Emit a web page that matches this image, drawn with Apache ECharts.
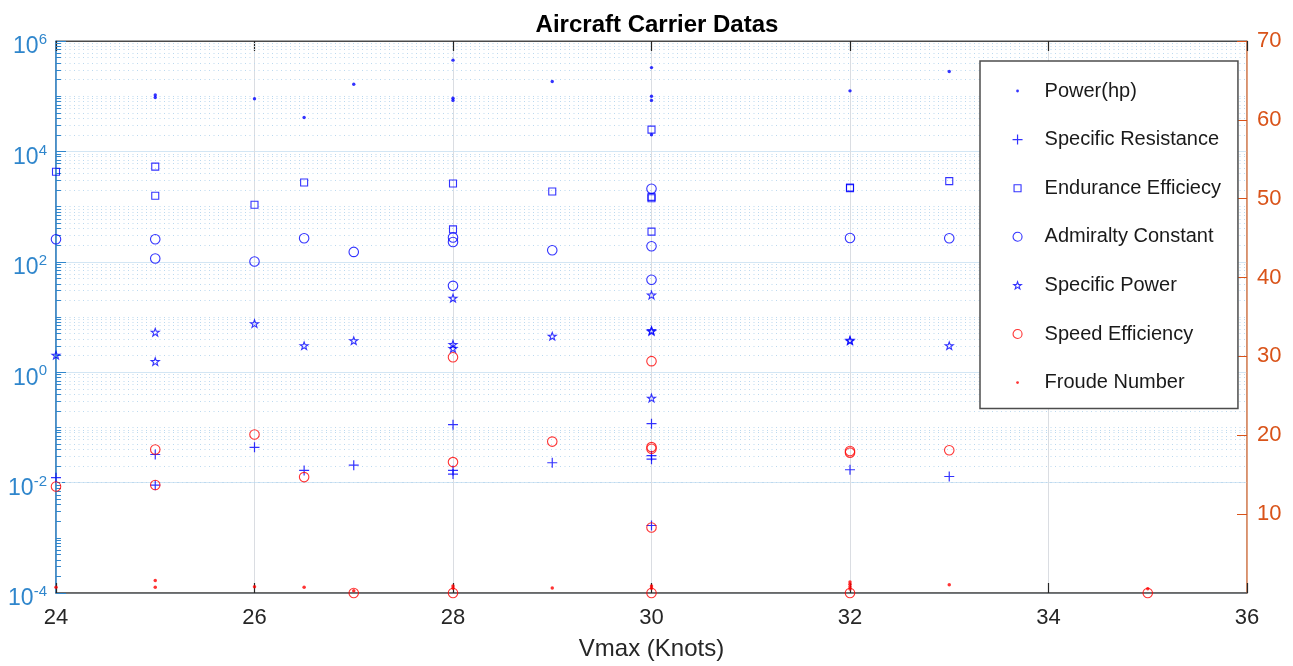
<!DOCTYPE html>
<html>
<head>
<meta charset="utf-8">
<title>Aircraft Carrier Datas</title>
<script src="https://cdn.jsdelivr.net/npm/echarts@6/dist/echarts.min.js"></script>
<style>
  html, body { margin: 0; padding: 0; background: #fff; }
  #chart { width: 1293px; height: 666px; }
</style>
</head>
<body>
<div id="chart"></div>
<script>
// ---- data: [Vmax (knots), value] ----
const powerHp = [
  [25, 1.05e5], [25, 0.95e5], [26, 9.0e4], [26.5, 4.1e4], [27, 1.65e5],
  [28, 4.5e5], [28, 9.2e4], [28, 8.4e4], [29, 1.85e5],
  [30, 3.3e5], [30, 1.0e5], [30, 8.4e4], [30, 2.0e4],
  [32, 1.25e5], [33, 2.8e5]
];
const specificResistance = [
  [24, 0.0123], [25, 0.0323], [25, 0.009], [26, 0.0436], [26.5, 0.0166], [27, 0.0207],
  [28, 0.112], [28, 0.0166], [28, 0.0143], [29, 0.0229],
  [30, 0.117], [30, 0.0307], [30, 0.0266], [30, 0.00167],
  [32, 0.0171], [33, 0.0129]
];
const enduranceEfficiency = [
  [24, 4270], [25, 5300], [25, 1570], [26, 1080], [26.5, 2730],
  [28, 2620], [28, 387], [29, 1880],
  [30, 24800], [30, 1500], [30, 1420], [30, 352],
  [32, 2220], [32, 2160], [33, 2890]
];
const admiraltyConstant = [
  [24, 256], [25, 256], [25, 115], [26, 101], [26.5, 267], [27, 151],
  [28, 275], [28, 229], [28, 36.7], [29, 162],
  [30, 2100], [30, 191], [30, 47.2],
  [32, 270], [33, 267]
];
const specificPower = [
  [24, 2.04], [25, 5.3], [25, 1.56], [26, 7.6], [26.5, 3.03], [27, 3.73],
  [28, 22], [28, 3.2], [28, 2.7], [29, 4.5],
  [30, 25], [30, 5.7], [30, 5.5], [30, 0.34],
  [32, 3.8], [32, 3.7], [33, 3.03]
];
const speedEfficiency = [
  [24, 13.5], [25, 18.2], [25, 13.7], [26, 20.1], [26.5, 14.7], [27, 0],
  [28, 29.9], [28, 16.6], [28, 0], [29, 19.2],
  [30, 29.4], [30, 18.5], [30, 18.3], [30, 8.3], [30, 0],
  [32, 18.0], [32, 17.8], [32, 0], [33, 18.1], [35, 0]
];
const froudeNumber = [
  [24, 0.72], [25, 1.6], [25, 0.72], [26, 0.8], [26.5, 0.72], [27, 0.3],
  [28, 0.9], [28, 0.6], [29, 0.63], [30, 0.9], [30, 0.6],
  [32, 1.4], [32, 1.1], [32, 0.8], [32, 0.5], [33, 1.05], [35, 0.55]
];

const seriesNames = [
  'Power(hp)', 'Specific Resistance', 'Endurance Efficiecy',
  'Admiralty Constant', 'Specific Power', 'Speed Efficiency', 'Froude Number'
];

// ---- axis ranges ----
const xRange = [24, 36];
const leftRange = [1e-4, 1e6];
const rightRange = [0, 70];

// ---- styling ----
const FONT = '"Liberation Sans", Arial, Helvetica, sans-serif';
const BLUE = '#0000ff';
const RED = '#ff0000';
const LEFT_AXIS = '#2f86cc';
const RIGHT_AXIS = '#d95319';
const NONE = 'rgba(0,0,0,0)';

// marker shapes
function starPath(cx, cy, R, r) {
  let d = '';
  for (let i = 0; i < 10; i++) {
    const a = (-90 + i * 36) * Math.PI / 180;
    const rad = i % 2 === 0 ? R : r;
    d += (i === 0 ? 'M' : 'L') + (cx + rad * Math.cos(a)).toFixed(2) + ',' + (cy + rad * Math.sin(a)).toFixed(2);
  }
  return d + 'Z';
}
function circlePath(cx, cy, r) {
  return 'M' + (cx - r) + ',' + cy + 'A' + r + ',' + r + ',0,1,1,' + (cx + r) + ',' + cy +
         'A' + r + ',' + r + ',0,1,1,' + (cx - r) + ',' + cy + 'Z';
}
// filled cross: arm length 2*h, bar thickness 2*t, centred on (cx, cy)
function crossPath(cx, cy, h, t) {
  const p = (x, y) => (cx + x).toFixed(2) + ',' + (cy + y).toFixed(2);
  return 'M' + p(-h, -t) + 'L' + p(h, -t) + 'L' + p(h, t) + 'L' + p(-h, t) + 'Z' +
         'M' + p(-t, -h) + 'L' + p(t, -h) + 'L' + p(t, h) + 'L' + p(-t, h) + 'Z';
}
const PLUS = 'path://' + crossPath(5, 5, 5, 0.6);
const STAR = 'path://' + starPath(10, 10, 10, 4);

// legend icons drawn inside a fixed 14x14 frame so their sizes differ
const FRAME = 'path://M0,0M14,14';
const legendIcons = {
  dot: FRAME + circlePath(7, 7, 1.4),
  plus: FRAME + crossPath(7, 7, 5, 0.6),
  square: FRAME + 'M3.5,3.5L10.5,3.5L10.5,10.5L3.5,10.5Z',
  circle: FRAME + circlePath(7, 7, 4.5),
  star: FRAME + starPath(7, 7.3, 4, 1.6)
};

// minor log positions: 2..9 x 10^k and the odd decades
const minorLogValues = [];
for (let k = -4; k < 6; k++) {
  for (let m = 1; m <= 9; m++) {
    if (m === 1 && k % 2 === 0) continue;
    minorLogValues.push(m * Math.pow(10, k));
  }
}

const hollow = (c) => ({ color: NONE, borderColor: c, borderWidth: 1.1 });
const filled = (c) => ({ color: c, borderWidth: 0 });

const option = {
  animation: false,
  backgroundColor: '#fff',
  textStyle: { fontFamily: FONT },
  title: {
    text: 'Aircraft Carrier Datas',
    left: 652, top: 8, textAlign: 'center',
    textStyle: { fontSize: 24, fontWeight: 'bold', color: '#000', fontFamily: FONT }
  },
  grid: {
    left: 56, right: 46, top: 41, bottom: 71,
    show: true, borderColor: '#4a4a4a', borderWidth: 1, backgroundColor: NONE
  },
  legend: {
    orient: 'vertical', left: 980, top: 61,
    padding: [20, 17, 16, 30],
    itemWidth: 14, itemHeight: 14, itemGap: 28.6,
    backgroundColor: '#fff', borderColor: '#4d4d4d', borderWidth: 1.5,
    selectedMode: false,
    formatter: '{t|{name}}',
    textStyle: {
      rich: { t: { fontSize: 20, lineHeight: 20, color: '#1a1a1a', fontFamily: FONT, padding: [0, 0, 0, 15] } }
    },
    data: [
      { name: seriesNames[0], icon: legendIcons.dot, itemStyle: filled(BLUE) },
      { name: seriesNames[1], icon: legendIcons.plus, itemStyle: filled(BLUE) },
      { name: seriesNames[2], icon: legendIcons.square, itemStyle: hollow(BLUE) },
      { name: seriesNames[3], icon: legendIcons.circle, itemStyle: hollow(BLUE) },
      { name: seriesNames[4], icon: legendIcons.star, itemStyle: hollow(BLUE) },
      { name: seriesNames[5], icon: legendIcons.circle, itemStyle: hollow(RED) },
      { name: seriesNames[6], icon: legendIcons.dot, itemStyle: filled(RED) }
    ]
  },
  xAxis: [
    {
      type: 'value', position: 'bottom', min: xRange[0], max: xRange[1], interval: 2,
      name: 'Vmax (Knots)', nameLocation: 'middle', nameGap: 44,
      nameTextStyle: { fontSize: 24, color: '#262626', fontFamily: FONT },
      axisLine: { show: true, lineStyle: { color: '#555', width: 1.5 } },
      axisTick: { show: true, inside: true, length: 10, lineStyle: { color: '#262626', width: 1.2 } },
      axisLabel: { fontSize: 22, color: '#262626', margin: 14, fontFamily: FONT },
      splitLine: { show: true, lineStyle: { color: '#dadde2', width: 1 } }
    },
    {
      type: 'value', position: 'top', min: xRange[0], max: xRange[1], interval: 2,
      axisLine: { show: true, lineStyle: { color: '#4a4a4a', width: 1.2 } },
      axisTick: { show: true, inside: true, length: 10, lineStyle: { color: '#262626', width: 1.2 } },
      axisLabel: { show: false },
      splitLine: { show: false }
    }
  ],
  yAxis: [
    {
      type: 'log', logBase: 10, position: 'left',
      min: leftRange[0], max: leftRange[1], interval: 2,
      axisLine: { show: true, lineStyle: { color: LEFT_AXIS, width: 1.5 } },
      axisTick: { show: true, inside: true, length: 10, lineStyle: { color: LEFT_AXIS } },
      axisLabel: {
        margin: 9, padding: [12, 0, 0, 0],
        formatter: function (v) {
          const e = Math.round(Math.log10(v));
          return '{b|10}{s|' + e + '}';
        },
        rich: {
          b: { fontSize: 23, lineHeight: 23, color: LEFT_AXIS, fontFamily: FONT },
          s: { fontSize: 15, lineHeight: 15, color: LEFT_AXIS, fontFamily: FONT, padding: [0, 0, 14, 0] }
        }
      },
      splitLine: { show: true, lineStyle: { color: '#d3e6f4', width: 1 } }
    },
    {
      type: 'value', position: 'right',
      min: rightRange[0], max: rightRange[1], interval: 10,
      axisLine: { show: true, lineStyle: { color: '#e58a5c', width: 1.5 } },
      axisTick: { show: true, inside: true, length: 10, lineStyle: { color: RIGHT_AXIS } },
      axisLabel: { fontSize: 22, color: RIGHT_AXIS, margin: 10, showMinLabel: false, fontFamily: FONT },
      splitLine: { show: false }
    }
  ],
  series: [
    {
      // dotted minor grid and minor ticks of the log axis
      type: 'scatter', xAxisIndex: 0, yAxisIndex: 0, data: [], silent: true,
      markLine: {
        silent: true, symbol: ['none', 'none'], z: 1, animation: false,
        label: { show: false }, emphasis: { disabled: true },
        data: minorLogValues.map(v => ({ yAxis: v, lineStyle: { color: '#bcd9ef', width: 1, type: [1, 3.5] } }))
          .concat(minorLogValues.map(v => [
            { coord: [xRange[0], v], lineStyle: { color: LEFT_AXIS, width: 1, type: 'solid' } },
            { coord: [xRange[0] + 0.05, v] }
          ]))
      }
    },
    {
      name: seriesNames[0], type: 'scatter', xAxisIndex: 0, yAxisIndex: 0, z: 3,
      symbol: 'circle', symbolSize: 3.4, itemStyle: filled(BLUE), data: powerHp
    },
    {
      name: seriesNames[1], type: 'scatter', xAxisIndex: 0, yAxisIndex: 0, z: 3,
      symbol: PLUS, symbolSize: 10, itemStyle: filled(BLUE), data: specificResistance
    },
    {
      name: seriesNames[2], type: 'scatter', xAxisIndex: 0, yAxisIndex: 0, z: 3,
      symbol: 'rect', symbolSize: 7, itemStyle: hollow(BLUE), data: enduranceEfficiency
    },
    {
      name: seriesNames[3], type: 'scatter', xAxisIndex: 0, yAxisIndex: 0, z: 3,
      symbol: 'circle', symbolSize: 9.5, itemStyle: hollow(BLUE), data: admiraltyConstant
    },
    {
      name: seriesNames[4], type: 'scatter', xAxisIndex: 0, yAxisIndex: 0, z: 3,
      symbol: STAR, symbolSize: 8, symbolKeepAspect: true, itemStyle: hollow(BLUE), data: specificPower
    },
    {
      name: seriesNames[5], type: 'scatter', xAxisIndex: 0, yAxisIndex: 1, z: 3,
      symbol: 'circle', symbolSize: 9.5, itemStyle: hollow(RED), data: speedEfficiency
    },
    {
      name: seriesNames[6], type: 'scatter', xAxisIndex: 0, yAxisIndex: 1, z: 3,
      symbol: 'circle', symbolSize: 3.5, itemStyle: filled(RED), data: froudeNumber
    }
  ]
};

const chart = echarts.init(document.getElementById('chart'), null, { renderer: 'canvas' });
chart.setOption(option);
</script>
</body>
</html>
